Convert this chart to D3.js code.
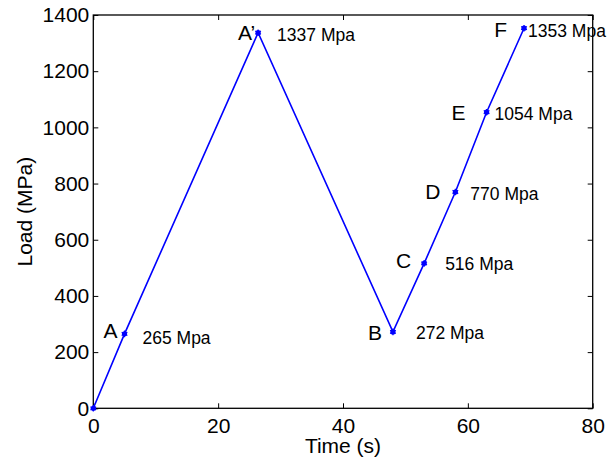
<!DOCTYPE html>
<html>
<head>
<meta charset="utf-8">
<script src="https://cdn.jsdelivr.net/npm/d3@7"></script>
<style>
  body { margin: 0; background: #fff; }
  svg { display: block; font-family: "Liberation Sans", Arial, sans-serif; }
</style>
</head>
<body>
<svg id="chart" width="607" height="459"></svg>
<script>
// data
const times = [0, 5, 26.4, 48, 53, 58, 63, 69];
const loads = [0, 265, 1337, 272, 516, 770, 1054, 1353];
const pointNames = ["", "A", "A\u2019", "B", "C", "D", "E", "F"];
const valueLabels = ["", "265 Mpa", "1337 Mpa", "272 Mpa", "516 Mpa", "770 Mpa", "1054 Mpa", "1353 Mpa"];
const xTicks = [0, 20, 40, 60, 80];
const yTicks = [0, 200, 400, 600, 800, 1000, 1200, 1400];

const margin = { left: 93.3, right: 14.3, top: 15, bottom: 50.7 };
const width = 607, height = 459;

const svg = d3.select("#chart");
const x = d3.scaleLinear().domain([0, 80]).range([margin.left, width - margin.right]);
const y = d3.scaleLinear().domain([0, 1400]).range([height - margin.bottom, margin.top]);

const data = times.map((t, i) => ({ t: t, v: loads[i], name: pointNames[i], label: valueLabels[i] }));

// box frame with inward ticks on all sides
const axisStyle = g => {
  g.select(".domain").remove();
  g.selectAll("line").attr("stroke", "#000");
  g.selectAll("text").attr("fill", "#000").style("font-size", "21px");
};

svg.append("g")
  .attr("transform", `translate(0,${y(0)})`)
  .call(d3.axisBottom(x).tickValues(xTicks).tickSize(-5).tickPadding(10).tickFormat(d3.format("d")))
  .call(axisStyle);
svg.append("g")
  .attr("transform", `translate(0,${y(1400)})`)
  .call(d3.axisTop(x).tickValues(xTicks).tickSize(-5).tickFormat(""))
  .call(axisStyle);
svg.append("g")
  .attr("transform", `translate(${x(0)},0)`)
  .call(d3.axisLeft(y).tickValues(yTicks).tickSize(-5).tickPadding(4).tickFormat(d3.format("d")))
  .call(axisStyle);
svg.append("g")
  .attr("transform", `translate(${x(80)},0)`)
  .call(d3.axisRight(y).tickValues(yTicks).tickSize(-5).tickFormat(""))
  .call(axisStyle);

svg.append("rect")
  .attr("x", x(0)).attr("y", y(1400))
  .attr("width", x(80) - x(0)).attr("height", y(0) - y(1400))
  .attr("fill", "none").attr("stroke", "#000").attr("stroke-width", 1.3);

// line
const line = d3.line().x(d => x(d.t)).y(d => y(d.v));
svg.append("path")
  .datum(data)
  .attr("d", line)
  .attr("fill", "none")
  .attr("stroke", "#0000ff")
  .attr("stroke-width", 1.6);

// markers: small asterisk with a dot
const marks = svg.selectAll(".mark")
  .data(data)
  .enter().append("g")
  .attr("transform", d => `translate(${x(d.t)},${y(d.v)})`);
marks.append("path")
  .attr("d", d3.symbol().type(d3.symbolAsterisk).size(30))
  .attr("stroke", "#0000ff").attr("stroke-width", 1.2).attr("fill", "none");
marks.append("circle").attr("r", 2.6).attr("fill", "#0000ff");

// point letters and values
const nameOffsets = [[0, 0], [-7, 4], [-3, 7], [-11, 8], [-13, 5], [-15, 7], [-21, 8], [-17, 9]];
const labelOffsets = [[0, 0], [18, 10], [19, 8], [23, 7], [21, 7], [15, 8], [8, 8], [4, 9]];

svg.selectAll(".pname")
  .data(data.filter(d => d.name))
  .enter().append("text")
  .attr("x", d => x(d.t) + nameOffsets[data.indexOf(d)][0])
  .attr("y", d => y(d.v) + nameOffsets[data.indexOf(d)][1])
  .attr("text-anchor", "end")
  .style("font-size", "21px")
  .text(d => d.name);

svg.selectAll(".pval")
  .data(data.filter(d => d.label))
  .enter().append("text")
  .attr("x", d => x(d.t) + labelOffsets[data.indexOf(d)][0])
  .attr("y", d => y(d.v) + labelOffsets[data.indexOf(d)][1])
  .style("font-size", "17.5px")
  .text(d => d.label);

// axis titles
svg.append("text")
  .attr("x", (x(0) + x(80)) / 2)
  .attr("y", 453)
  .attr("text-anchor", "middle")
  .style("font-size", "21px")
  .text("Time (s)");

svg.append("text")
  .attr("transform", `translate(31.5,${(y(0) + y(1400)) / 2}) rotate(-90)`)
  .attr("text-anchor", "middle")
  .style("font-size", "21px")
  .text("Load (MPa)");
</script>
</body>
</html>
